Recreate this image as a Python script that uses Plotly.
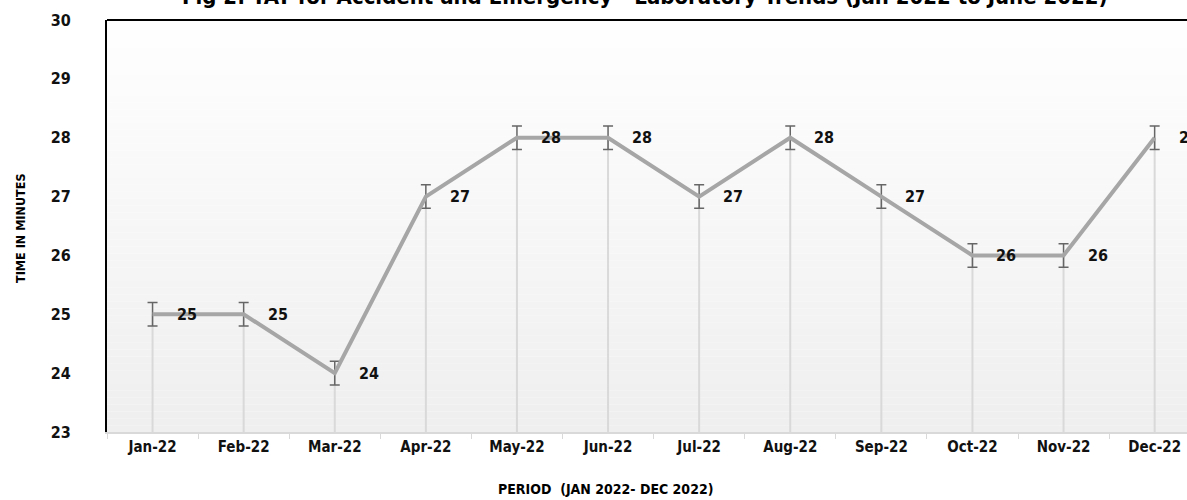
import plotly.graph_objects as go

months = ["Jan-22", "Feb-22", "Mar-22", "Apr-22", "May-22", "Jun-22",
          "Jul-22", "Aug-22", "Sep-22", "Oct-22", "Nov-22", "Dec-22"]
tat_minutes = [25, 25, 24, 27, 28, 28, 27, 28, 27, 26, 26, 28]
error_margin = [0.2] * 12
y_ticks = [23, 24, 25, 26, 27, 28, 29, 30]

FONT = "DejaVu Sans Condensed, Liberation Sans Narrow, sans-serif"

W, H = 1187, 500
L, R, T, B = 107, 0, 20, 68
band = 91.1
plot_w = W - L - R
plot_h = H - T - B

fig = go.Figure()

# gradient background bands
n = 60
for i in range(n):
    c = int(255 - (255 - 239) * (i + 0.5) / n)
    fig.add_shape(type="rect", xref="paper", yref="paper",
                  x0=0, x1=1, y0=1 - (i + 1) / n, y1=1 - i / n,
                  fillcolor=f"rgb({c},{c},{c})", line_width=0, layer="below")

# drop lines
dx, dy = [], []
for m, v in zip(months, tat_minutes):
    dx += [m, m, None]
    dy += [y_ticks[0], v, None]
fig.add_trace(go.Scatter(x=dx, y=dy, mode="lines",
                         line=dict(color="#d9d9d9", width=2),
                         hoverinfo="skip", showlegend=False))

# main line with error bars
fig.add_trace(go.Scatter(
    x=months, y=tat_minutes, mode="lines",
    line=dict(color="#a6a6a6", width=4),
    error_y=dict(type="data", array=error_margin, visible=True,
                 color="#666666", thickness=1.5, width=5),
    showlegend=False))

# data labels
for m, v in zip(months, tat_minutes):
    fig.add_annotation(x=m, y=v, text=str(v), showarrow=False,
                       xanchor="left", yanchor="middle", xshift=22,
                       font=dict(family=FONT, size=16, color="#111111", weight="bold"))

# top frame line
fig.add_shape(type="line", xref="paper", yref="paper", x0=0, x1=1, y0=1, y1=1,
              line=dict(color="black", width=2))

fig.add_annotation(xref="paper", yref="paper",
                   x=(645 - L) / plot_w, y=1 + 23 / plot_h,
                   text="Fig 2: TAT for Accident and Emergency - Laboratory Trends (Jan 2022 to June 2022)",
                   showarrow=False, xanchor="center", yanchor="middle",
                   font=dict(family=FONT, size=22, color="black", weight="bold"))

fig.add_annotation(xref="paper", yref="paper",
                   x=(605 - L) / plot_w, y=-(489 - 432) / plot_h,
                   text="PERIOD  (JAN 2022- DEC 2022)", showarrow=False,
                   xanchor="center", yanchor="middle",
                   font=dict(family=FONT, size=14, color="black", weight="bold"))

fig.add_annotation(xref="paper", yref="paper",
                   x=-(L - 20) / plot_w, y=(432 - 228) / plot_h,
                   text="TIME IN MINUTES", showarrow=False, textangle=-90,
                   xanchor="center", yanchor="middle",
                   font=dict(family=FONT, size=12.5, color="black", weight="bold"))

fig.update_layout(
    width=W, height=H,
    margin=dict(l=L, r=R, t=T, b=B, pad=0),
    paper_bgcolor="white", plot_bgcolor="rgba(0,0,0,0)",
    xaxis=dict(type="category", categoryorder="array", categoryarray=months,
               range=[-0.5, -0.5 + plot_w / band],
               showgrid=False, zeroline=False,
               showline=True, linecolor="#d9d9d9", linewidth=2,
               ticks="outside", tickson="boundaries", ticklen=5,
               tickcolor="#d9d9d9", tickwidth=1,
               tickfont=dict(family=FONT, size=15, color="#111111", weight="bold")),
    yaxis=dict(range=[23, 30], tickvals=y_ticks,
               showgrid=False, zeroline=False,
               showline=True, linecolor="black", linewidth=2,
               ticks="", ticklabelstandoff=31,
               tickfont=dict(family=FONT, size=16, color="#111111", weight="bold")),
)

fig.write_html("out.html")
